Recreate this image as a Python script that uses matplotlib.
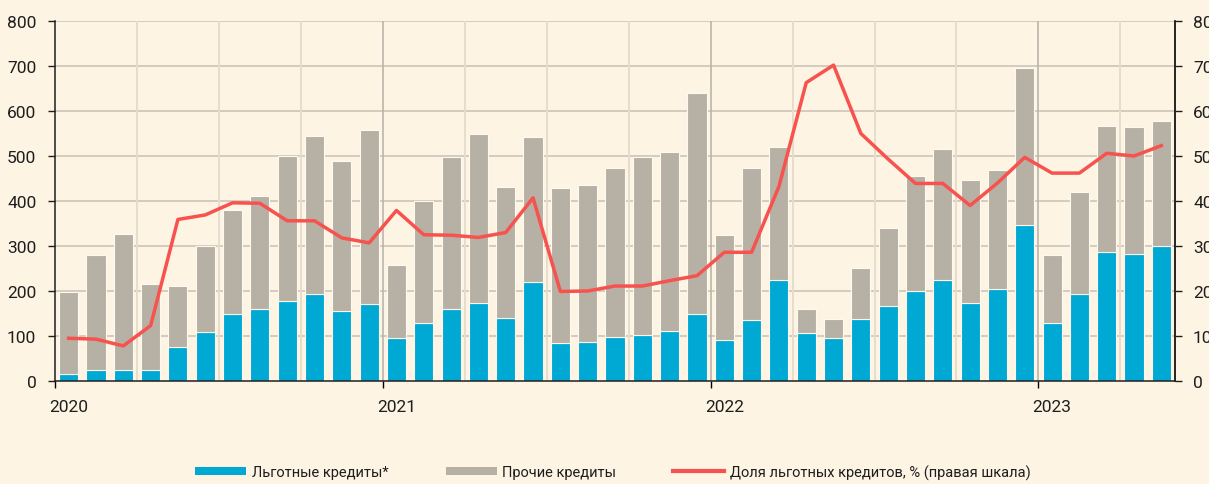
import matplotlib
matplotlib.use('Agg')
import matplotlib.pyplot as plt
from matplotlib.patches import Patch
from matplotlib.lines import Line2D
import numpy as np

plt.rcParams['font.family'] = ['Roboto', 'DejaVu Sans']

# Palette
C_BG = '#fdf4e4'
C_BLUE = '#00a8d4'
C_GRAY = '#b7b0a4'
C_RED = '#f7524e'
C_GRID = '#c9c1b5'
C_QTR = '#e7ddcc'
C_YEAR = '#bcb5aa'
C_TEXT = '#1e1e1e'

# Data: monthly, Jan 2020 .. May 2023
years = ['2020', '2021', '2022', '2023']
soft_loans = [16, 24, 24, 25, 75, 109, 150, 160, 177, 193, 155, 172,
              96, 129, 160, 174, 141, 219, 84, 86, 98, 103, 112, 149,
              91, 136, 224, 106, 96, 137, 167, 199, 225, 173, 204, 346,
              129, 193, 286, 282, 301]
total_loans = [197, 280, 327, 215, 212, 299, 381, 411, 501, 544, 489, 557,
               257, 401, 498, 549, 431, 542, 430, 436, 474, 498, 509, 639,
               325, 474, 519, 159, 137, 252, 339, 455, 516, 446, 469, 695,
               279, 421, 567, 564, 577]
share_pct = [9.5, 9.3, 7.8, 12.3, 35.9, 36.9, 39.6, 39.5, 35.6, 35.6, 31.8, 30.7,
             37.9, 32.5, 32.4, 31.9, 33.0, 40.7, 19.9, 20.0, 21.1, 21.1, 22.3, 23.4,
             28.6, 28.6, 43.2, 66.3, 70.2, 55.0, 49.3, 43.9, 43.9, 39.0, 44.0, 49.7,
             46.2, 46.2, 50.6, 50.0, 52.3]

soft = np.array(soft_loans)
other = np.array(total_loans) - soft
n = len(soft)
x = np.arange(n) + 0.5

fig = plt.figure(figsize=(12.09, 4.85), dpi=100)
fig.patch.set_facecolor(C_BG)
ax = fig.add_axes([55 / 1209, 103 / 485, 1120 / 1209, 360 / 485])
ax.set_facecolor(C_BG)

# grid: horizontal + quarter / year verticals
for v in range(100, 801, 100):
    ax.axhline(v, color=C_GRID, lw=1.1, zorder=0)
for q in range(3, n, 3):
    if q % 12 == 0:
        ax.axvline(q, color=C_YEAR, lw=1.2, zorder=0)
    else:
        ax.axvline(q, color=C_QTR, lw=1.4, zorder=0)

ax.bar(x, soft, width=0.7, color=C_BLUE, edgecolor='#fdfaf2', linewidth=0.8, zorder=2)
ax.bar(x, other, width=0.7, bottom=soft, color=C_GRAY, edgecolor='#fdfaf2',
       linewidth=0.8, zorder=2)

ax.set_xlim(0, n)
ax.set_ylim(0, 800)
ax.set_yticks(range(0, 801, 100))
ax.tick_params(axis='y', direction='out', length=5, width=1, pad=8.5,
               labelsize=12.5, colors=C_TEXT)

# year boundaries as major ticks, year labels as minor ticks
ax.set_xticks([0, 12, 24, 36])
ax.set_xticklabels([])
ax.tick_params(axis='x', which='major', direction='out', length=5, width=1)
ax.set_xticks([0.5, 12.5, 24.5, 36.5], minor=True)
ax.set_xticklabels(years, minor=True)
ax.tick_params(axis='x', which='minor', length=0, pad=13, labelsize=12.5, colors=C_TEXT)

ax.spines['top'].set_visible(False)
for s in ['left', 'bottom', 'right']:
    ax.spines[s].set_color(C_TEXT)
    ax.spines[s].set_linewidth(1.1)

ax2 = ax.twinx()
ax2.plot(x, share_pct, color=C_RED, lw=2.5, zorder=5, solid_joinstyle='round')
ax2.set_ylim(0, 80)
ax2.set_yticks(range(0, 81, 10))
ax2.tick_params(axis='y', direction='out', length=5, width=1, pad=8,
                labelsize=12.5, colors=C_TEXT)
for s in ['top', 'left', 'bottom']:
    ax2.spines[s].set_visible(False)
ax2.spines['right'].set_color(C_TEXT)
ax2.spines['right'].set_linewidth(1.1)

handles = [
    Patch(facecolor=C_BLUE, edgecolor='none', label='Льготные кредиты*'),
    Patch(facecolor=C_GRAY, edgecolor='none', label='Прочие кредиты'),
    Line2D([], [], color=C_RED, lw=3, label='Доля льготных кредитов, % (правая шкала)'),
]
fig.legend(handles=handles, loc='center', bbox_to_anchor=(613 / 1209, 12 / 485),
           ncol=3, frameon=False, fontsize=10.5, handlelength=3.5, handleheight=0.55,
           handletextpad=0.4, columnspacing=3.9, labelcolor=C_TEXT)

fig.savefig('out.png', dpi=100, facecolor=C_BG)
